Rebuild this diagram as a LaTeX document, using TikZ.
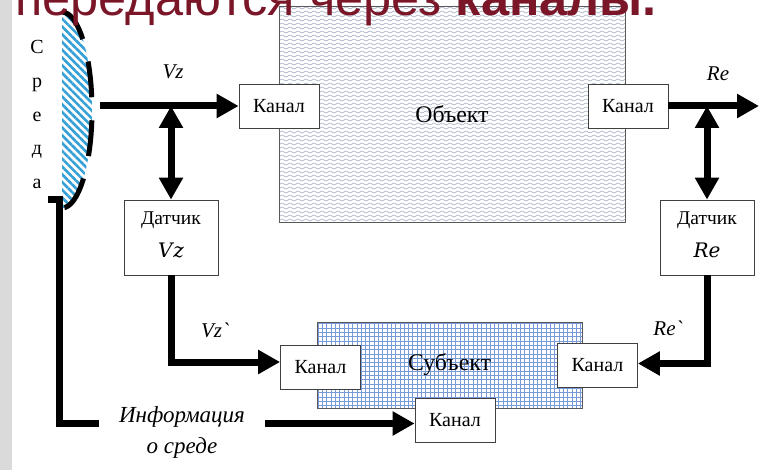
\documentclass[tikz,border=0pt]{standalone}
\usepackage{fontspec}
\setmainfont{Liberation Serif}
\newfontfamily\titlefont{Liberation Sans}
\newfontfamily\varfont{DejaVu Serif}
\usetikzlibrary{arrows.meta,patterns,patterns.meta}

\definecolor{titlered}{RGB}{122,22,40}
\definecolor{hatchblue}{RGB}{52,160,214}
\definecolor{wavegray}{RGB}{150,162,188}
\definecolor{gridblue}{RGB}{120,155,215}
\definecolor{sidegray}{RGB}{218,218,218}

\pgfdeclarepatternformonly{objwaves}{\pgfqpoint{-1pt}{-1pt}}{\pgfqpoint{9pt}{5pt}}{\pgfqpoint{8pt}{4pt}}{%
  \pgfsetlinewidth{0.5pt}%
  \pgfpathmoveto{\pgfqpoint{0pt}{2pt}}%
  \pgfpathcurveto{\pgfqpoint{1.3pt}{3.4pt}}{\pgfqpoint{2.7pt}{3.4pt}}{\pgfqpoint{4pt}{2pt}}%
  \pgfpathcurveto{\pgfqpoint{5.3pt}{0.6pt}}{\pgfqpoint{6.7pt}{0.6pt}}{\pgfqpoint{8pt}{2pt}}%
  \pgfusepath{stroke}}

\pgfdeclarepatternformonly{subgrid}{\pgfqpoint{-1pt}{-1pt}}{\pgfqpoint{5.3pt}{5.3pt}}{\pgfqpoint{4.3pt}{4.3pt}}{%
  \pgfsetlinewidth{0.7pt}%
  \pgfpathmoveto{\pgfqpoint{0pt}{0pt}}\pgfpathlineto{\pgfqpoint{4.4pt}{0pt}}%
  \pgfpathmoveto{\pgfqpoint{0pt}{0pt}}\pgfpathlineto{\pgfqpoint{0pt}{4.4pt}}%
  \pgfusepath{stroke}}

\begin{document}
\begin{tikzpicture}[x=1pt,y=-1pt,
  boxframe/.style={draw=black!75,line width=0.8pt,fill=white,inner sep=0pt},
  chan/.style={boxframe,minimum width=80pt,minimum height=44pt,font=\fontsize{20}{22}\selectfont},
  sensor/.style={boxframe,minimum width=94pt,minimum height=75pt},
  sensorname/.style={inner sep=0pt,font=\fontsize{19.5}{21}\selectfont},
  sensorvar/.style={inner sep=0pt,font=\varfont\itshape\fontsize{20}{22}\selectfont},
  flowlbl/.style={inner sep=0pt,font=\itshape\fontsize{21}{23}\selectfont},
  bigarrow/.style={line width=7pt,-{Triangle[length=22pt,width=23pt]}},
  dblarrow/.style={line width=7pt,{Triangle[length=22pt,width=23pt]}-{Triangle[length=22pt,width=23pt]}},
  bigbox/.style={draw=black!65,line width=0.8pt,inner sep=0pt,font=\fontsize{23.8}{26}\selectfont}
]
\useasboundingbox (0,0) rectangle (759,470);
\fill[white] (0,0) rectangle (759,470);
\fill[sidegray] (0,0) rectangle (12,470);

% main blocks
\node[bigbox,pattern=objwaves,pattern color=wavegray,minimum width=346pt,minimum height=216pt] (obj) at (452,114) {Объект};
\node[bigbox,pattern=subgrid,pattern color=gridblue,minimum width=265pt,minimum height=86pt] (subj) at (449.5,365) {Субъект};

% environment
\fill[pattern={Lines[angle=-45,distance=5.5pt,line width=2.6pt]},pattern color=hatchblue]
  (62,12) arc[start angle=-90,end angle=90,x radius=30,y radius=98] -- cycle;
\draw[line width=5pt,dash pattern=on 36pt off 23pt]
  (62,12) arc[start angle=-90,end angle=90,x radius=30,y radius=98];
\foreach \ch [count=\i] in {С,р,е,д,а}
  \node[anchor=base,inner sep=0pt,font=\fontsize{20}{22}\selectfont] (sreda\i) at (37,{53.5+33.8*(\i-1)}) {\ch};

% channels
\node[chan] (k1) at (279,106) {Канал};
\node[chan] (k2) at (628,106) {Канал};
\node[chan] (k3) at (320.5,367) {Канал};
\node[chan] (k4) at (597.5,365.5) {Канал};
\node[chan] (k5) at (455,420.5) {Канал};

% sensors
\node[sensor] (d1) at (171,237.5) {};
\node[sensorname] (d1n) at (171,220) {Датчик};
\node[sensorvar] (d1v) at (171,250) {V\kern1pt z};
\node[sensor] (d2) at (707,237.5) {};
\node[sensorname] (d2n) at (707,220) {Датчик};
\node[sensorvar] (d2v) at (707,250) {Re};

% connectors
\coordinate (envout) at (100,106);
\coordinate (j1) at (171,106);
\coordinate (j2) at (707,106);
\coordinate (reout) at (759,106);
\coordinate (k3in) at ([yshift=5pt]k3.west);
\coordinate (k4in) at ([yshift=2pt]k4.east);
\coordinate (k5in) at ([yshift=-3pt]k5.west);
\coordinate (stubend) at (48,199.5);
\coordinate (pipetop) at (59,199.5);

\draw[bigarrow] (envout) -- (k1.west);
\draw[dblarrow] (j1) -- (d1.north);
\draw[bigarrow] (k2.east) -- (reout);
\draw[dblarrow] (j2) -- (d2.north);
\draw[bigarrow] (d1.south) -- (d1.south |- k3in) -- (k3in);
\draw[bigarrow] (d2.south) -- (d2.south |- k4in) -- (k4in);
\draw[bigarrow] (stubend) -- (pipetop) -- (pipetop |- k5in) -- (k5in);

% labels
\node[flowlbl] (lvz) at (173,72) {Vz};
\node[flowlbl] (lre) at (718,74) {Re};
\node[flowlbl] (lvz2) at (215,330) {Vz\textasciigrave};
\node[flowlbl] (lre2) at (668,328) {Re\textasciigrave};
\node[flowlbl,fill=white,inner xsep=20pt,align=center,font=\itshape\fontsize{23}{31}\selectfont] (info) at (182,432) {Информация\\о среде};

% title
\node[anchor=base west,inner sep=0pt,text=titlered,font=\titlefont\fontsize{50.5}{55}\selectfont] (title) at (15,16) {передаются через \textbf{каналы.}};
\end{tikzpicture}
\end{document}
